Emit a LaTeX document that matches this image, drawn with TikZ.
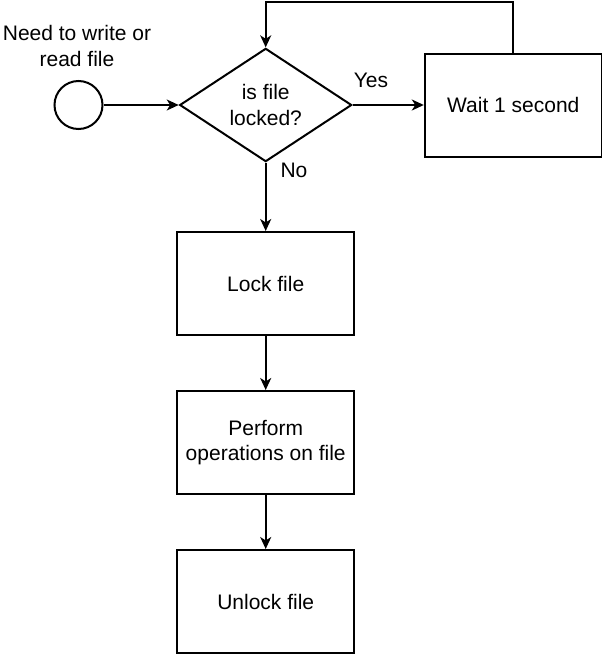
\documentclass[tikz,border=0pt]{standalone}
\usepackage{fontspec}
\setmainfont{Liberation Sans}
\usetikzlibrary{shapes.geometric,arrows.meta}
\begin{document}
\begin{tikzpicture}[x=1pt,y=-1pt,
  every node/.style={font=\fontsize{21}{25.5}\selectfont},
  flowbox/.style={draw, line width=2pt, minimum width=177pt, minimum height=103pt,
    inner sep=0pt, align=center},
  decision/.style={draw, diamond, line width=2pt, minimum width=172pt,
    minimum height=100pt, inner sep=0pt, align=center},
  startpt/.style={draw, circle, line width=2pt, minimum size=48pt, inner sep=0pt},
  caption/.style={inner sep=0pt, align=center},
  link/.style={line width=2pt, -{Stealth[length=12pt,width=11pt,inset=3.5pt]}}
]
\useasboundingbox (0,0) rectangle (602,656);

% nodes
\node[startpt] (start) at (78.5,105) {};
\node[caption] (need) at (77,46) {Need to write or\\read file};
\node[decision] (dia) at (265.7,105) {is file\\locked?};
\node[flowbox] (wait) at (513.3,105) {Wait 1 second};
\node[flowbox] (lock) at (265.7,283.5) {Lock file};
\node[flowbox] (perform) at (265.7,442.5) {Perform\\operations on file};
\node[flowbox] (unlock) at (265.7,601.5) {Unlock file};

% branch labels
\node[caption] (yes) at (371,80) {Yes};
\node[caption] (no) at (294,170) {No};

% connectors
\draw[link] (start) -- (dia.west);
\draw[link] (dia.east) -- (wait.west);
\draw[link] (wait.north) -- ++(0,-51) -| (dia.north);
\draw[link] (dia.south) -- (lock.north);
\draw[link] (lock.south) -- (perform.north);
\draw[link] (perform.south) -- (unlock.north);
\end{tikzpicture}
\end{document}
